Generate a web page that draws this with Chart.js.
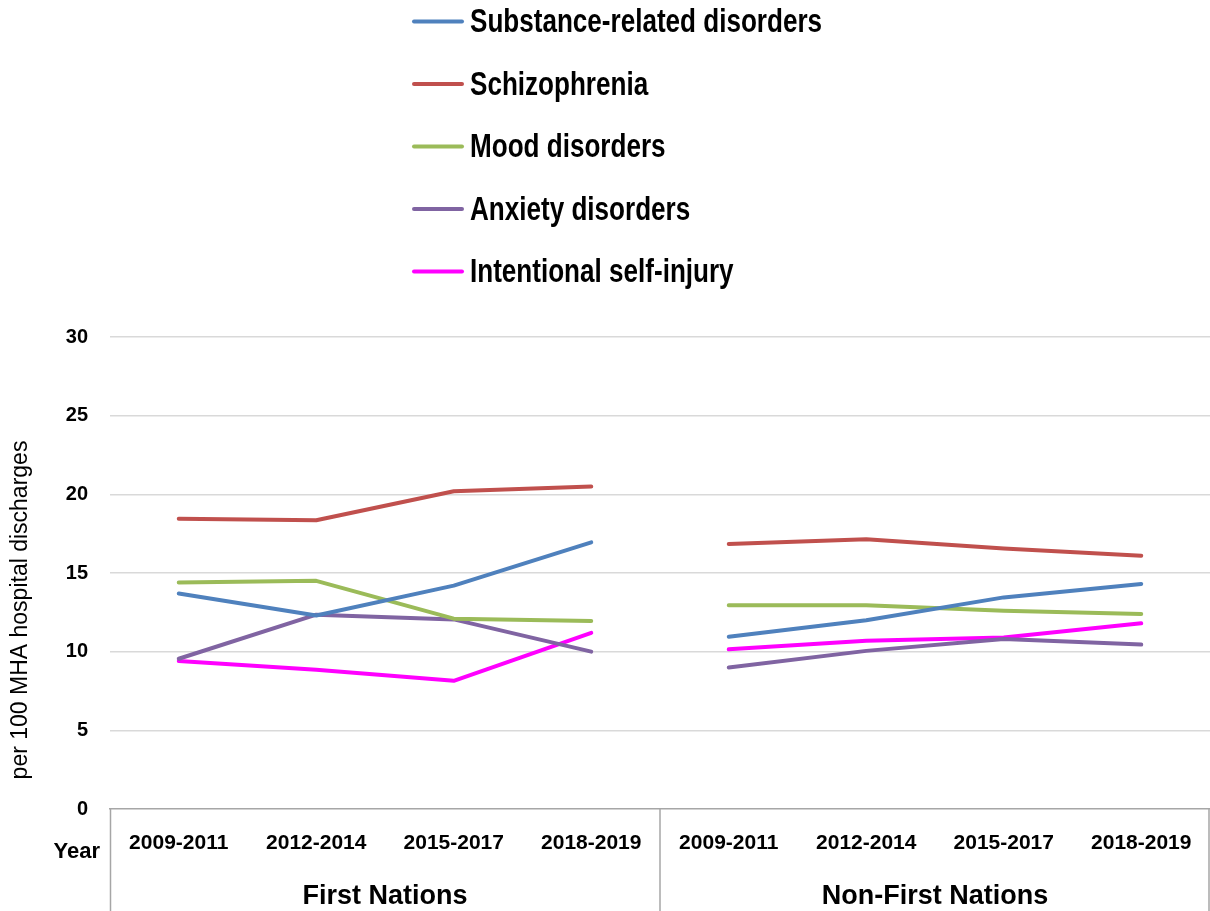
<!DOCTYPE html>
<html>
<head>
<meta charset="utf-8">
<title>MHA hospital discharges</title>
<script src="https://cdn.jsdelivr.net/npm/chart.js@4.4.1/dist/chart.umd.min.js"></script>
<style>
  html, body { margin: 0; padding: 0; background: #fff; }
  canvas { display: block; }
</style>
</head>
<body>
<canvas id="dischargeChart" width="1210" height="911"></canvas>
<script>
// Periods repeat once per population group
const periods = ['2009-2011', '2012-2014', '2015-2017', '2018-2019',
                 '2009-2011', '2012-2014', '2015-2017', '2018-2019'];
const groups = ['First Nations', 'Non-First Nations'];
const yTicks = [0, 5, 10, 15, 20, 25, 30];

// per 100 MHA hospital discharges
const substance     = [13.7, 12.3, 14.2, 16.95, 10.95, 12.0, 13.45, 14.3];
const schizophrenia = [18.45, 18.35, 20.2, 20.5, 16.85, 17.15, 16.55, 16.1];
const mood          = [14.4, 14.5, 12.1, 11.95, 12.95, 12.95, 12.6, 12.4];
const anxiety       = [9.55, 12.35, 12.05, 10.0, 9.0, 10.05, 10.8, 10.45];
const selfInjury    = [9.4, 8.85, 8.15, 11.2, 10.15, 10.7, 10.9, 11.8];

const FONT = '"Liberation Sans", Arial, sans-serif';
const FRAME = '#a6a6a6';

function series(label, data, color) {
  return {
    label, data,
    borderColor: color,
    backgroundColor: color,
    borderWidth: 4,
    borderCapStyle: 'round',
    borderJoinStyle: 'round',
    pointRadius: 0,
    pointHoverRadius: 0,
    tension: 0,
    // no line between the last First Nations period and the first Non-First Nations one
    segment: { borderColor: ctx => ctx.p0DataIndex === 3 ? 'rgba(0,0,0,0)' : undefined }
  };
}

// Vertical legend, axis title, "Year" label and the group dividers under the axis
const decorations = {
  id: 'decorations',
  afterDraw(chart) {
    const ctx = chart.ctx;
    const area = chart.chartArea;
    const x = chart.scales.x;

    ctx.save();
    // legend (text squeezed horizontally to get a narrow bold face)
    chart.data.datasets.forEach((ds, i) => {
      const y = 21.5 + i * 62.5;
      ctx.strokeStyle = ds.borderColor;
      ctx.lineWidth = 4;
      ctx.lineCap = 'round';
      ctx.beginPath();
      ctx.moveTo(414, y);
      ctx.lineTo(462, y);
      ctx.stroke();

      ctx.save();
      ctx.translate(470, y + 10.5);
      ctx.scale(0.79, 1);
      ctx.font = 'bold 33px ' + FONT;
      ctx.textAlign = 'left';
      ctx.textBaseline = 'alphabetic';
      ctx.fillStyle = '#000';
      ctx.fillText(ds.label, 0, 0);
      ctx.restore();
    });

    // group dividers
    const mid = (x.getPixelForValue(3) + x.getPixelForValue(4)) / 2;
    ctx.strokeStyle = FRAME;
    ctx.lineWidth = 1.5;
    ctx.lineCap = 'butt';
    [area.left + 0.5, mid, area.right - 1].forEach(px => {
      ctx.beginPath();
      ctx.moveTo(px, area.bottom);
      ctx.lineTo(px, chart.height);
      ctx.stroke();
    });

    // "Year" caption left of the period labels
    ctx.fillStyle = '#000';
    ctx.font = 'bold 22px ' + FONT;
    ctx.textAlign = 'right';
    ctx.textBaseline = 'middle';
    ctx.fillText('Year', 100, 852);

    // y axis title
    ctx.translate(21, 610);
    ctx.rotate(-Math.PI / 2);
    ctx.font = '23px ' + FONT;
    ctx.textAlign = 'center';
    ctx.fillText('per 100 MHA hospital discharges', 0, 0);
    ctx.restore();
  }
};

new Chart(document.getElementById('dischargeChart'), {
  type: 'line',
  data: {
    labels: periods,
    datasets: [
      series('Substance-related disorders', substance, '#4f81bd'),
      series('Schizophrenia', schizophrenia, '#c0504d'),
      series('Mood disorders', mood, '#9bbb59'),
      series('Anxiety disorders', anxiety, '#8064a2'),
      series('Intentional self-injury', selfInjury, '#ff00ff')
    ]
  },
  plugins: [decorations],
  options: {
    responsive: false,
    animation: false,
    devicePixelRatio: 1,
    layout: { padding: { top: 337, left: 0, right: 0, bottom: 0 } },
    plugins: {
      legend: { display: false },
      tooltip: { enabled: false }
    },
    scales: {
      x: {
        type: 'category',
        offset: true,
        grid: { display: false },
        border: { display: true, color: FRAME, width: 1.5 },
        ticks: {
          color: '#000',
          font: { family: FONT, size: 21, weight: 'bold' },
          padding: 14,
          maxRotation: 0,
          autoSkip: false
        },
        afterFit: s => { s.height = 52; s.paddingLeft = 0; s.paddingRight = 0; }
      },
      group: {
        type: 'category',
        labels: groups,
        position: 'bottom',
        offset: true,
        grid: { display: false },
        border: { display: false },
        ticks: {
          color: '#000',
          font: { family: FONT, size: 27, weight: 'bold' },
          padding: 11,
          maxRotation: 0
        },
        afterFit: s => { s.height = 50; s.paddingLeft = 0; s.paddingRight = 0; }
      },
      y: {
        min: 0,
        max: 30,
        afterBuildTicks: s => { s.ticks = yTicks.map(v => ({ value: v })); },
        grid: {
          color: c => c.tick && c.tick.value === 0 ? 'rgba(0,0,0,0)' : '#d9d9d9',
          lineWidth: 1.5,
          drawTicks: false
        },
        border: { display: false },
        ticks: {
          color: '#000',
          font: { family: FONT, size: 20, weight: 'bold' },
          padding: 22
        },
        afterFit: s => { s.width = 110; }
      }
    }
  }
});
</script>
</body>
</html>
